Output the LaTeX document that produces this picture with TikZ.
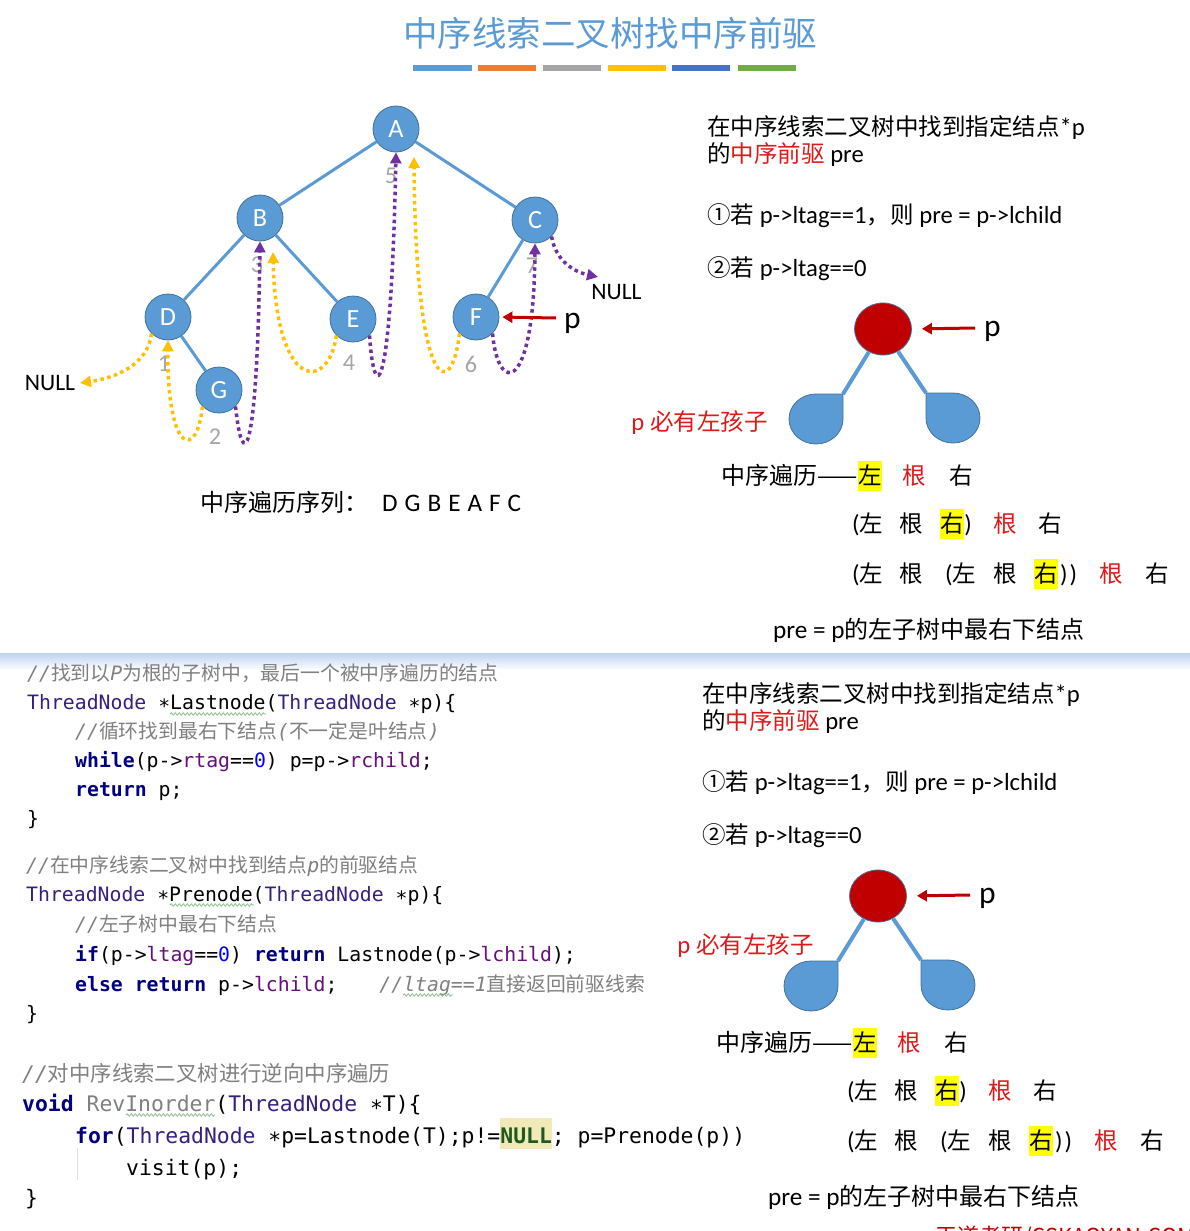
\documentclass[tikz,border=0pt]{standalone}
\usepackage{fontspec}
\usetikzlibrary{arrows.meta,decorations.pathmorphing,shapes.geometric}
\setmainfont{Carlito}[Scale=1.05]
\newfontfamily\zhfont{Noto Sans CJK SC}
\newfontfamily\codefont{DejaVu Sans Mono}
\definecolor{nodeblue}{HTML}{5B9BD5}
\definecolor{nodeedge}{HTML}{41719C}
\definecolor{thyel}{HTML}{FFC000}
\definecolor{thpur}{HTML}{7030A0}
\definecolor{darkred}{HTML}{C00000}
\definecolor{redtxt}{HTML}{E01818}
\definecolor{numgray}{HTML}{A6A6A6}
\definecolor{kwcol}{HTML}{000080}
\definecolor{tycol}{HTML}{371F80}
\definecolor{fdcol}{HTML}{660E7A}
\definecolor{cmcol}{HTML}{808080}
\definecolor{nullcol}{HTML}{1E5A1E}
\definecolor{nullbg}{HTML}{F2E9B8}
\definecolor{hlyel}{HTML}{FFFF00}
\definecolor{barA}{HTML}{5B9BD5}
\definecolor{barB}{HTML}{ED7D31}
\definecolor{barC}{HTML}{A5A5A5}
\definecolor{barD}{HTML}{FFC000}
\definecolor{barE}{HTML}{4472C4}
\definecolor{barF}{HTML}{70AD47}
\definecolor{divcol}{HTML}{BDD3F0}
\definecolor{squigcol}{HTML}{8DBF8D}
\newcommand\zhs[1]{{\zhfont\upshape #1}}
\newcommand\ckw[1]{{\color{kwcol}\bfseries #1}}
\newcommand\cty[1]{{\color{tycol}#1}}
\newcommand\cfd[1]{{\color{fdcol}#1}}
\newcommand\cnum[1]{{\color{blue}#1}}
\newcommand\ccom[1]{{\color{cmcol}#1}}
\tikzset{
  tnode/.style={circle, fill=nodeblue, draw=nodeedge, line width=0.8pt, minimum size=46pt, inner sep=0pt, text=white, font=\fontsize{25}{25}\selectfont},
  tedge/.style={draw=nodeblue, line width=3pt},
  thr/.style={line width=3.5pt, dash pattern=on 3.5pt off 3.5pt, -{Triangle[length=11pt,width=11pt]}},
  yth/.style={thr, draw=thyel},
  pth/.style={thr, draw=thpur},
  numlbl/.style={text=numgray, font=\fontsize{23}{23}\selectfont, inner sep=0pt},
  nulllbl/.style={font=\fontsize{22.5}{23}\selectfont, inner sep=0pt},
  plbl/.style={font=\fontsize{30}{31}\selectfont, inner sep=0pt},
  parrow/.style={draw=darkred, line width=3pt, -{Triangle[length=10pt,width=11pt]}},
  txt/.style={font=\fontsize{23.5}{28}\selectfont, inner sep=0pt},
  hl/.style={fill=hlyel, inner sep=0pt, text height=23pt, text depth=7pt, minimum width=24pt},
  code/.style={font=\codefont\fontsize{19.8}{24}\selectfont, inner sep=0pt, anchor=base west},
  codeb/.style={font=\codefont\fontsize{21.4}{26}\selectfont, inner sep=0pt, anchor=base west},
  squig/.style={draw=squigcol, line width=0.8pt, decorate, decoration={snake, segment length=4pt, amplitude=1.2pt}},
  redc/.style={ellipse, minimum width=57pt, minimum height=52pt, inner sep=0pt, fill=darkred, draw=nodeedge, line width=0.8pt},
  tear/.style={fill=nodeblue, draw=nodeedge, line width=0.8pt}
}
\newcommand\rblock[3]{%
  \node[txt, anchor=base west] (#1t1) at (707,135) {\zhs{在中序线索二叉树中找到指定结点}*p};
  \node[txt, anchor=base west] (#1t2) at (707,162) {\zhs{的}\textcolor{redtxt}{\zhs{中序前驱}} pre};
  \node[txt, anchor=base west] (#1t3) at (707,223) {\zhs{①若} p->ltag==1\zhs{，则} pre = p->lchild};
  \node[txt, anchor=base west] (#1t4) at (707,276) {\zhs{②若} p->ltag==0};
  \node[redc] (#1c) at (883,329) {};
  \coordinate (#1lc) at (843,394);
  \coordinate (#1rc) at (926,393);
  \draw[tear] (843,394) -- (843,419) arc[start angle=0, end angle=270, x radius=27, y radius=25] -- cycle;
  \draw[tear] (926,393) -- (953,393) arc[start angle=270, end angle=540, x radius=27, y radius=25] -- cycle;
  \draw[tedge, line width=4pt] (#1c) -- (#1lc);
  \draw[tedge, line width=4pt] (#1c) -- (#1rc);
  \coordinate (#1ps) at (975,328);
  \draw[parrow, shorten >=10pt] (#1ps) -- (#1c.east);
  \node[plbl, anchor=base] (#1p) at (992.5,336) {p};
  \node[txt, text=redtxt] (#1lbl) at (#2,#3) {p \zhs{必有左孩子}};
  % line 1
  \node[txt, font=\fontsize{24}{28}\selectfont, anchor=base east] (#1a1) at (858,484) {\zhs{中序遍历——}};
  \node[txt, hl, anchor=base] (#1a2) at (870,484) {\zhs{左}};
  \node[txt, text=redtxt, anchor=base] (#1a3) at (914.5,484) {\zhs{根}};
  \node[txt, anchor=base] (#1a4) at (961,484) {\zhs{右}};
  % line 2
  \node[txt, anchor=base west] (#1b1) at (852,532) {(\zhs{左}};
  \node[txt, anchor=base] (#1b2) at (911.5,532) {\zhs{根}};
  \node[txt, hl, anchor=base] (#1b3) at (952,532) {\zhs{右}};
  \node[txt, anchor=base] (#1b4) at (968,532) {)};
  \node[txt, text=redtxt, anchor=base] (#1b5) at (1005,532) {\zhs{根}};
  \node[txt, anchor=base] (#1b6) at (1050.5,532) {\zhs{右}};
  % line 3
  \node[txt, anchor=base west] (#1d1) at (852,582) {(\zhs{左}};
  \node[txt, anchor=base] (#1d2) at (911.5,582) {\zhs{根}};
  \node[txt, anchor=base west] (#1d3) at (945,582) {(\zhs{左}};
  \node[txt, anchor=base] (#1d4) at (1005,582) {\zhs{根}};
  \node[txt, hl, anchor=base] (#1d5) at (1046,582) {\zhs{右}};
  \node[txt, anchor=base] (#1d6) at (1068.5,582) {)\hspace{2pt})};
  \node[txt, text=redtxt, anchor=base] (#1d7) at (1111.5,582) {\zhs{根}};
  \node[txt, anchor=base] (#1d8) at (1157.5,582) {\zhs{右}};
  \node[txt, font=\fontsize{24}{28}\selectfont, anchor=base west] (#1pre) at (773,638) {pre = p\zhs{的左子树中最右下结点}};
}
\begin{document}
\begin{tikzpicture}[x=1pt,y=-1pt]
\useasboundingbox (0,0) rectangle (1190,1231);
\fill[white] (0,0) rectangle (1190,1231);
\begin{scope}
\clip (0,0) rectangle (1190,1231);
% title
\node[font=\zhfont\fontsize{34.5}{40}\selectfont, text=nodeblue, inner sep=0pt] (title) at (610,33) {中序线索二叉树找中序前驱};
\fill[barA] (413,65) rectangle (472,71);
\fill[barB] (478,65) rectangle (536,71);
\fill[barC] (543,65) rectangle (601,71);
\fill[barD] (608,65) rectangle (666,71);
\fill[barE] (672,65) rectangle (730,71);
\fill[barF] (738,65) rectangle (796,71);
% tree
\node[tnode] (A) at (396,129) {A};
\node[tnode] (B) at (260,218) {B};
\node[tnode] (C) at (535,220) {C};
\node[tnode] (D) at (168,317) {D};
\node[tnode] (E) at (353,319) {E};
\node[tnode] (F) at (476,317) {F};
\node[tnode] (G) at (219,390) {G};
\draw[tedge] (A) -- (B);
\draw[tedge] (A) -- (C);
\draw[tedge] (B) -- (D);
\draw[tedge] (B) -- (E);
\draw[tedge] (C) -- (F);
\draw[tedge] (D) -- (G);
% step numbers
\node[numlbl] (n1) at (164,364) {1};
\node[numlbl] (n2) at (215,437) {2};
\node[numlbl] (n3) at (257,265) {3};
\node[numlbl] (n4) at (349,363) {4};
\node[numlbl] (n5) at (391,176) {5};
\node[numlbl] (n6) at (471,364) {6};
\node[numlbl] (n7) at (532,266) {7};
\node[nulllbl] (nullL) at (50,383) {NULL};
\node[nulllbl] (nullR) at (616.5,292.5) {NULL};
\coordinate (nlend) at (80,383);
\coordinate (nrend) at (598,277);
\coordinate (bY) at (273,252);
\coordinate (aY) at (414,157);
% threads
\draw[yth] (D.225) .. controls (148,365) and (115,378) .. (nlend);
\draw[yth] (G.225) .. controls (197,460) and (167,455) .. (D.south);
\draw[pth] (G.315) .. controls (242,470) and (257,470) .. (B.south);
\draw[yth] (E.225) .. controls (328,392) and (276,392) .. (bY);
\draw[pth] (E.315) .. controls (374,405) and (391,405) .. (A.south);
\draw[yth] (F.225) .. controls (452,400) and (416,400) .. (aY);
\draw[pth] (F.315) .. controls (498,395) and (534,395) .. (C.south);
\draw[pth] (C.315) .. controls (556,262) and (575,272) .. (nrend);
% p pointer
\node[plbl, anchor=base] (ptree) at (572.5,328) {p};
\coordinate (pts) at (556,318);
\draw[parrow, shorten >=3pt] (pts) -- (F.east);
\node[font=\fontsize{24}{28}\selectfont, inner sep=0pt, anchor=base west] (seq) at (200,511) {\zhs{中序遍历序列：}\hspace{14pt}D\hspace{7pt}G\hspace{7pt}B\hspace{7pt}E\hspace{7pt}A\hspace{7pt}F\hspace{7pt}C};
% right blocks
\rblock{u}{699.5}{423}
\begin{scope}[shift={(-5,567)}]
\rblock{w}{750.5}{379}
\end{scope}
% divider
\shade[top color=divcol, bottom color=white] (0,653) rectangle (1190,670);
% code block 1
\node[code] (c1a) at (27,680) {\ccom{\itshape//\zhs{找到以}P\zhs{为根的子树中，最后一个被中序遍历的结点}}};
\node[code] (c1b) at (27,709) {\cty{ThreadNode} ∗Lastnode(\cty{ThreadNode} ∗p)\{};
\node[code] (c1c) at (75,738) {\ccom{\itshape//\zhs{循环找到最右下结点}(\zhs{不一定是叶结点})}};
\node[code] (c1d) at (75,767) {\ckw{while}(p->\cfd{rtag}==\cnum{0}) p=p->\cfd{rchild};};
\node[code] (c1e) at (75,796) {\ckw{return} p;};
\node[code] (c1f) at (27,825) {\}};
\draw[squig] (170,714) -- (266,714);
% code block 2
\node[code] (c2a) at (26,872) {\ccom{\itshape//\zhs{在中序线索二叉树中找到结点}p\zhs{的前驱结点}}};
\node[code] (c2b) at (26,901) {\cty{ThreadNode} ∗Prenode(\cty{ThreadNode} ∗p)\{};
\node[code] (c2c) at (75,931) {\ccom{\itshape//\zhs{左子树中最右下结点}}};
\node[code] (c2d) at (75,961) {\ckw{if}(p->\cfd{ltag}==\cnum{0}) \ckw{return} Lastnode(p->\cfd{lchild});};
\node[code] (c2e) at (75,991) {\ckw{else} \ckw{return} p->\cfd{lchild};\hspace{42pt}\ccom{\itshape//ltag==1\zhs{直接返回前驱线索}}};
\node[code] (c2f) at (26,1020) {\}};
\draw[squig] (170,905) -- (254,905);
\draw[squig] (403,995) -- (453,995);
% code block 3
\fill[nullbg] (500,1118) rectangle (552,1149);
\draw[gray!25, line width=1pt] (77,1148) -- (77,1180);
\node[codeb] (c3a) at (22,1081) {\ccom{\itshape//\zhs{对中序线索二叉树进行逆向中序遍历}}};
\node[codeb] (c3b) at (22,1111) {\ckw{void} \ccom{RevInorder}(\cty{ThreadNode} ∗T)\{};
\node[codeb] (c3c) at (75,1143) {\ckw{for}(\cty{ThreadNode} ∗p=Lastnode(T);p!=\textcolor{nullcol}{\bfseries NULL}; p=Prenode(p))};
\node[codeb] (c3d) at (126,1175) {visit(p);};
\node[codeb] (c3e) at (25,1205) {\}};
\draw[squig] (126,1115) -- (215,1115);
% watermark (cut off at bottom edge, as in the reference)
\node[font=\zhfont\fontsize{22}{26}\selectfont, text=darkred, inner sep=0pt, anchor=north west] (wm) at (935,1226) {王道考研/CSKAOYAN.COM};
\end{scope}
\end{tikzpicture}
\end{document}
